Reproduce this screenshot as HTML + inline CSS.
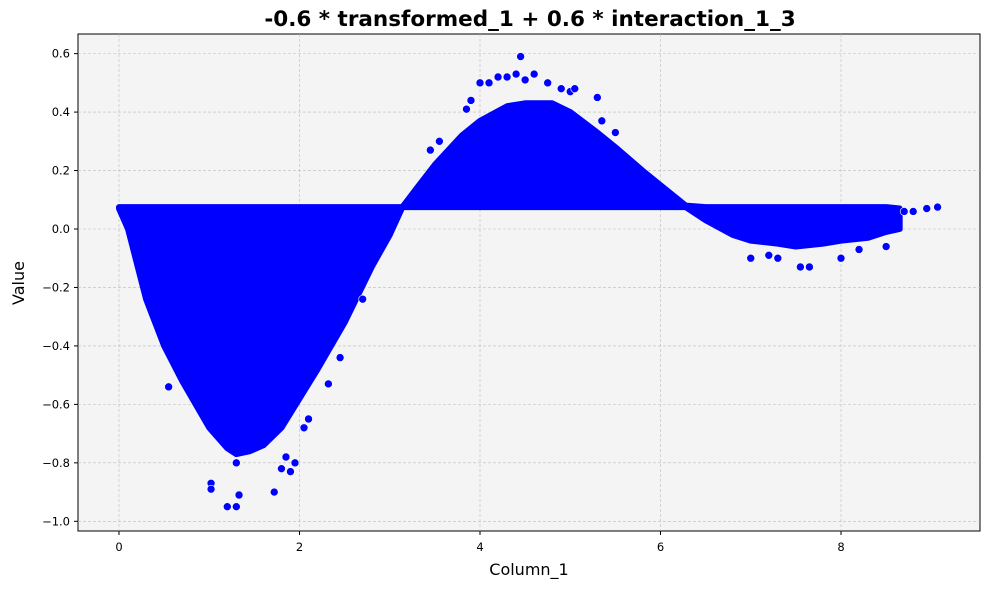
<!DOCTYPE html>
<html><head><meta charset="utf-8"><style>
body{margin:0;background:#fff;font-family:"DejaVu Sans","Liberation Sans",sans-serif}
</style></head><body>
<svg id="chart" width="989" height="590" xmlns="http://www.w3.org/2000/svg" font-family="DejaVu Sans, Liberation Sans, sans-serif">
<rect width="989" height="590" fill="#fff"/>
<text x="530" y="26" text-anchor="middle" font-size="21.5" font-weight="bold">-0.6 * transformed_1 + 0.6 * interaction_1_3</text>
<rect x="78" y="34" width="902" height="497" fill="#f4f4f4" stroke="#000" stroke-width="1"/>
<g id="grid"></g><g id="marks"></g><g id="axes"></g>
<text x="529" y="575" text-anchor="middle" font-size="16">Column_1</text>
<text x="24" y="283" text-anchor="middle" font-size="16" transform="rotate(-90 24 283)">Value</text>
</svg>
<script>
const xTicks=[0,2,4,6,8];
const yTicks=[0.6,0.4,0.2,0.0,-0.2,-0.4,-0.6,-0.8,-1.0];
const yTickLabels=["0.6","0.4","0.2","0.0","\u22120.2","\u22120.4","\u22120.6","\u22120.8","\u22121.0"];
// dense-band envelope: x, upper, lower
const envX=[0,0.1,0.2,0.3,0.5,0.7,1.0,1.2,1.3,1.45,1.6,1.8,2.0,2.2,2.5,2.8,3.0,3.14,3.3,3.5,3.8,4.0,4.3,4.5,4.8,5.0,5.3,5.5,5.8,6.0,6.28,6.5,6.8,7.0,7.3,7.5,7.8,8.0,8.3,8.5,8.65];
const envUpper=[0.075,0.075,0.075,0.075,0.075,0.075,0.075,0.075,0.075,0.075,0.075,0.075,0.075,0.075,0.075,0.075,0.075,0.075,0.14,0.22,0.32,0.37,0.42,0.43,0.43,0.4,0.33,0.28,0.2,0.15,0.08,0.075,0.075,0.075,0.075,0.075,0.075,0.075,0.075,0.075,0.07];
const envLower=[0.07,0.0,-0.12,-0.24,-0.4,-0.52,-0.68,-0.75,-0.77,-0.76,-0.74,-0.68,-0.58,-0.48,-0.32,-0.13,-0.02,0.075,0.075,0.075,0.075,0.075,0.075,0.075,0.075,0.075,0.075,0.075,0.075,0.075,0.075,0.03,-0.02,-0.04,-0.05,-0.06,-0.05,-0.04,-0.03,-0.01,0.0];
const outX=[1.2,1.3,1.02,1.02,1.33,1.72,1.8,1.85,1.9,1.95,2.1,2.05,1.3,0.55,2.32,2.45,2.7,4.45,4.2,4.3,4.4,4.5,4.6,4.75,4.9,5.0,5.05,5.3,4.0,3.9,4.1,3.85,5.35,5.5,7.0,7.2,7.3,7.55,7.65,8.0,8.5,8.95,9.07,8.8,8.7,8.2,3.45,3.55];
const outY=[-0.95,-0.95,-0.87,-0.89,-0.91,-0.9,-0.82,-0.78,-0.83,-0.8,-0.65,-0.68,-0.8,-0.54,-0.53,-0.44,-0.24,0.59,0.52,0.52,0.53,0.51,0.53,0.5,0.48,0.47,0.48,0.45,0.5,0.44,0.5,0.41,0.37,0.33,-0.1,-0.09,-0.1,-0.13,-0.13,-0.1,-0.06,0.07,0.075,0.06,0.06,-0.07,0.27,0.3];
const NS="http://www.w3.org/2000/svg";
const xs=v=>119+v*90.25, ys=v=>229-v*292.3;
function mk(t,a,p){const e=document.createElementNS(NS,t);for(const k in a)e.setAttribute(k,a[k]);p.appendChild(e);return e;}
const grid=document.getElementById('grid'),marks=document.getElementById('marks'),axes=document.getElementById('axes');
xTicks.forEach(t=>{
  const l=mk('line',{x1:xs(t),x2:xs(t),y1:34,y2:531,stroke:'#bbb','stroke-width':0.6,'stroke-dasharray':'3,2'},grid);
  
  
  mk('line',{x1:xs(t),x2:xs(t),y1:531,y2:535,stroke:'#000'},axes);
  const tx=mk('text',{x:xs(t),y:551,'text-anchor':'middle','font-size':11.5},axes);tx.textContent=t;
  
  
});
yTicks.forEach((t,i)=>{
  const l=mk('line',{x1:78,x2:980,y1:ys(t),y2:ys(t),stroke:'#bbb','stroke-width':0.6,'stroke-dasharray':'3,2'},grid);
  
  
  mk('line',{x1:74,x2:78,y1:ys(t),y2:ys(t),stroke:'#000'},axes);
  const tx=mk('text',{x:70,y:ys(t)+4,'text-anchor':'end','font-size':11.5},axes);tx.textContent=yTickLabels[i];
  
  
});
let pts=envX.map((x,i)=>xs(x)+','+ys(envUpper[i]));
for(let i=envX.length-1;i>=0;i--)pts.push(xs(envX[i])+','+ys(envLower[i]));
const band=mk('polygon',{points:pts.join(' '),fill:'#0000ff',stroke:'#0000ff','stroke-width':6,'stroke-linejoin':'round'},marks);


function dot(x,y){const c=mk('circle',{cx:xs(x),cy:ys(y),r:4,fill:'#0000ff',stroke:'#fff','stroke-width':0.6},marks);
  
  }
outX.forEach((x,i)=>dot(x,outY[i]));
</script>
</body></html>
